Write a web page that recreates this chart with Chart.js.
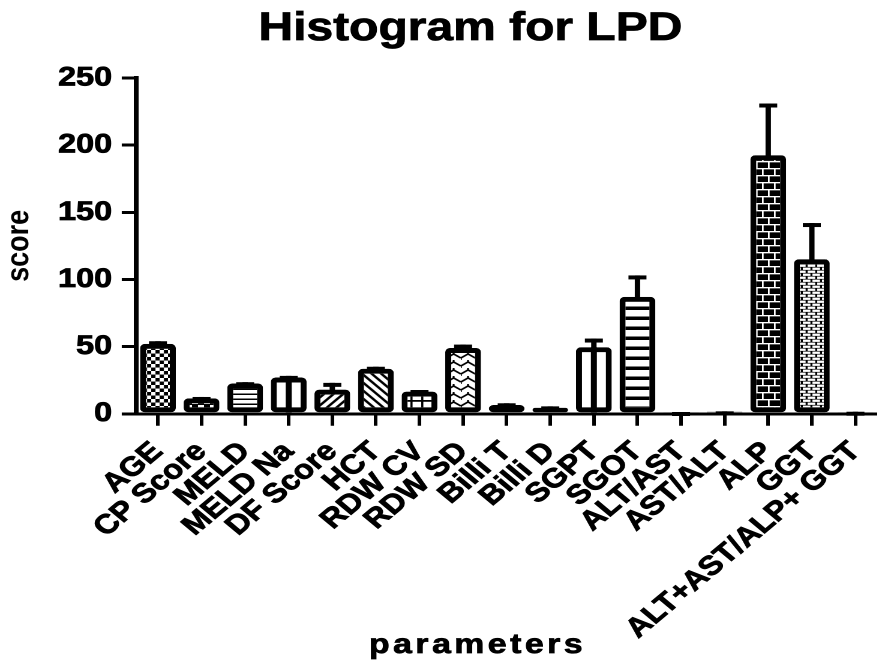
<!DOCTYPE html>
<html>
<head>
<meta charset="utf-8">
<script src="https://cdn.jsdelivr.net/npm/chart.js@4/dist/chart.umd.min.js"></script>
<style>
  html, body { margin: 0; padding: 0; background: #fff; overflow: hidden; }
  #wrap { position: absolute; left: 0; top: 0; width: 731px; height: 661px; transform: scaleX(1.2); transform-origin: 0 0; }
</style>
</head>
<body>
<div id="wrap"><canvas id="c"></canvas></div>
<script>
// ---- data ----
const categories = ['AGE', 'CP Score', 'MELD', 'MELD Na', 'DF Score', 'HCT', 'RDW CV', 'RDW SD', 'Billi T', 'Billi D', 'SGPT', 'SGOT', 'ALT/AST', 'AST/ALT', 'ALP', 'GGT', 'ALT+AST/ALP+ GGT'];
const meanScores = [52, 11.5, 22.5, 27, 18, 33.5, 16.5, 49, 6.5, 4.5, 49.5, 87, 1, 1.5, 192.5, 115, 1.2];
const errorScores = [2, 1, 1, 1.2, 5, 1.5, 1.2, 2.5, 1.3, 1, 6.5, 16, 0.3, 0.3, 38.5, 27, 0.3];
const yTicks = [0, 50, 100, 150, 200, 250];
const chartTitle = 'Histogram for LPD';
const xTitle = 'parameters';
const yTitle = 'score';

// ---- styles ----
const FONT = '"Liberation Sans", Arial, Helvetica, sans-serif';
const fillStyles = ['checkSmall', 'checkBig', 'hLines', 'vCenter', 'diagUp', 'diagDown', 'grid', 'zigzag', 'hLines', 'plain', 'vCenter', 'hBands', 'black', 'black', 'brickLines', 'bricks', 'black'];

function makePattern(w, h, draw) {
  const s = 3;
  const c = document.createElement('canvas');
  c.width = w * s; c.height = h * s;
  const g = c.getContext('2d');
  g.scale(s, s);
  draw(g, w, h);
  const p = g.createPattern(c, 'repeat');
  p.setTransform(new DOMMatrix([1 / s, 0, 0, 1 / s, 0, 0]));
  return p;
}
const patterns = {
  checkSmall: makePattern(7, 7, (g) => { g.fillStyle = '#000'; g.fillRect(0, 0, 7, 7); g.fillStyle = '#fff'; g.fillRect(0, 0, 3.5, 3.5); g.fillRect(3.5, 3.5, 3.5, 3.5); }),
  checkBig: makePattern(10, 10, (g) => { g.fillStyle = '#000'; g.fillRect(0, 0, 10, 10); g.fillStyle = '#fff'; g.fillRect(0, 0, 5, 4); g.fillRect(5, 5, 5, 4); }),
  hLines: makePattern(4, 5, (g) => { g.fillStyle = '#fff'; g.fillRect(0, 0, 4, 5); g.fillStyle = '#000'; g.fillRect(0, 3.5, 4, 1.5); }),
  vCenter: '#fff',
  plain: '#fff',
  black: '#000',
  diagUp: makePattern(8, 8, (g) => { g.fillStyle = '#fff'; g.fillRect(0, 0, 8, 8); g.strokeStyle = '#000'; g.lineWidth = 2.2; g.beginPath(); g.moveTo(-2, 10); g.lineTo(10, -2); g.moveTo(-4, 4); g.lineTo(4, -4); g.moveTo(4, 12); g.lineTo(12, 4); g.stroke(); }),
  diagDown: makePattern(8, 8, (g) => { g.fillStyle = '#fff'; g.fillRect(0, 0, 8, 8); g.strokeStyle = '#000'; g.lineWidth = 2.2; g.beginPath(); g.moveTo(-2, -2); g.lineTo(10, 10); g.moveTo(-4, 4); g.lineTo(4, 12); g.moveTo(4, -4); g.lineTo(12, 4); g.stroke(); }),
  grid: makePattern(9, 8, (g) => { g.fillStyle = '#fff'; g.fillRect(0, 0, 9, 8); g.fillStyle = '#000'; g.fillRect(0, 0, 1.8, 8); g.fillRect(0, 0, 9, 1.8); }),
  zigzag: makePattern(12, 8, (g) => { g.fillStyle = '#fff'; g.fillRect(0, 0, 12, 8); g.strokeStyle = '#000'; g.lineWidth = 1.6; g.beginPath(); g.moveTo(0, 6); g.lineTo(6, 2); g.lineTo(12, 6); g.moveTo(0, 6); g.lineTo(0, 8); g.moveTo(6, 2); g.lineTo(6, 0); g.stroke(); }),
  hBands: makePattern(4, 10, (g) => { g.fillStyle = '#fff'; g.fillRect(0, 0, 4, 10); g.fillStyle = '#000'; g.fillRect(0, 6.5, 4, 3.5); }),
  brickLines: makePattern(10, 14, (g) => { g.fillStyle = '#000'; g.fillRect(0, 0, 10, 14); g.fillStyle = '#fff'; g.fillRect(0, 0, 10, 1.3); g.fillRect(5, 0, 1.3, 7); g.fillRect(0, 7, 10, 1.3); g.fillRect(0, 7, 1.3, 7); }),
  bricks: makePattern(8, 6, (g) => { g.fillStyle = '#000'; g.fillRect(0, 0, 8, 6); g.fillStyle = '#fff'; g.fillRect(1, 0.6, 6.3, 2.3); g.fillRect(5, 3.6, 6.3, 2.3); g.fillRect(-3, 3.6, 6.3, 2.3); })
};

const overlayPlugin = {
  id: 'overlay',
  afterDatasetsDraw(chart) {
    const ctx = chart.ctx;
    const yScale = chart.scales.y;
    const meta = chart.getDatasetMeta(0);
    ctx.save();
    ctx.strokeStyle = '#000';
    meta.data.forEach((bar, i) => {
      const p = bar.getProps(['x', 'y', 'base', 'width'], true);
      if (fillStyles[i] === 'vCenter') {
        ctx.lineWidth = 5;
        ctx.beginPath(); ctx.moveTo(p.x, p.base); ctx.lineTo(p.x, p.y); ctx.stroke();
      }
      const top = yScale.getPixelForValue(meanScores[i] + errorScores[i]);
      ctx.lineWidth = 4.5;
      ctx.lineCap = 'butt';
      ctx.beginPath(); ctx.moveTo(p.x, p.y + 2); ctx.lineTo(p.x, top); ctx.stroke();
      ctx.lineWidth = 4;
      ctx.beginPath(); ctx.moveTo(p.x - 7.5, top + 2); ctx.lineTo(p.x + 7.5, top + 2); ctx.stroke();
    });
    ctx.restore();
  },
  afterDraw(chart) {
    const ctx = chart.ctx;
    ctx.save();
    ctx.fillStyle = '#000';
    ctx.strokeStyle = '#000';
    ctx.textAlign = 'center';
    ctx.textBaseline = 'alphabetic';
    ctx.font = 'bold 40px ' + FONT;
    ctx.lineWidth = 0.8;
    ctx.fillText(chartTitle, 392, 40);
    ctx.strokeText(chartTitle, 392, 40);
    ctx.font = 'bold 28px ' + FONT;
    try { ctx.letterSpacing = '3px'; } catch (e) {}
    ctx.fillText(xTitle, 398, 653);
    ctx.strokeText(xTitle, 398, 653);
    try { ctx.letterSpacing = '0px'; } catch (e) {}
    ctx.restore();
  }
};

new Chart(document.getElementById('c'), {
  type: 'bar',
  data: {
    labels: categories,
    datasets: [{
      data: meanScores,
      backgroundColor: fillStyles.map(s => patterns[s]),
      borderColor: '#000',
      borderWidth: 5,
      borderRadius: 4,
      borderSkipped: false,
      barPercentage: 0.82,
      categoryPercentage: 1
    }]
  },
  options: {
    responsive: true,
    maintainAspectRatio: false,
    devicePixelRatio: 2,
    animation: false,
    layout: { padding: { top: 78, left: 0, right: -3, bottom: 6 } },
    plugins: { legend: { display: false }, title: { display: false }, tooltip: { enabled: false } },
    scales: {
      x: {
        offset: true,
        afterFit: (scale) => { scale.paddingRight = 0; },
        grid: { offset: false, drawOnChartArea: false, drawTicks: true, tickLength: 12, lineWidth: 3, color: '#000', tickColor: '#000' },
        border: { display: true, width: 3, color: '#000' },
        ticks: { color: '#000', font: { family: FONT, size: 27, weight: 'bold' }, minRotation: 45, maxRotation: 45, autoSkip: false, padding: 10, textStrokeColor: '#000', textStrokeWidth: 0.8 }
      },
      y: {
        min: yTicks[0],
        max: yTicks[yTicks.length - 1],
        afterBuildTicks: (scale) => { scale.ticks = yTicks.map(v => ({ value: v })); },
        grid: { drawOnChartArea: false, drawTicks: true, tickLength: 12, lineWidth: 3, color: '#000', tickColor: '#000' },
        border: { display: true, width: 4, color: '#000' },
        ticks: { color: '#000', font: { family: FONT, size: 27, weight: 'bold' }, padding: 8, textStrokeColor: '#000', textStrokeWidth: 0.8 },
        title: { display: true, text: yTitle, color: '#000', font: { family: FONT, size: 27, weight: 'bold' }, padding: { top: 0, bottom: 8 } }
      }
    }
  },
  plugins: [overlayPlugin]
});
</script>
</body>
</html>
